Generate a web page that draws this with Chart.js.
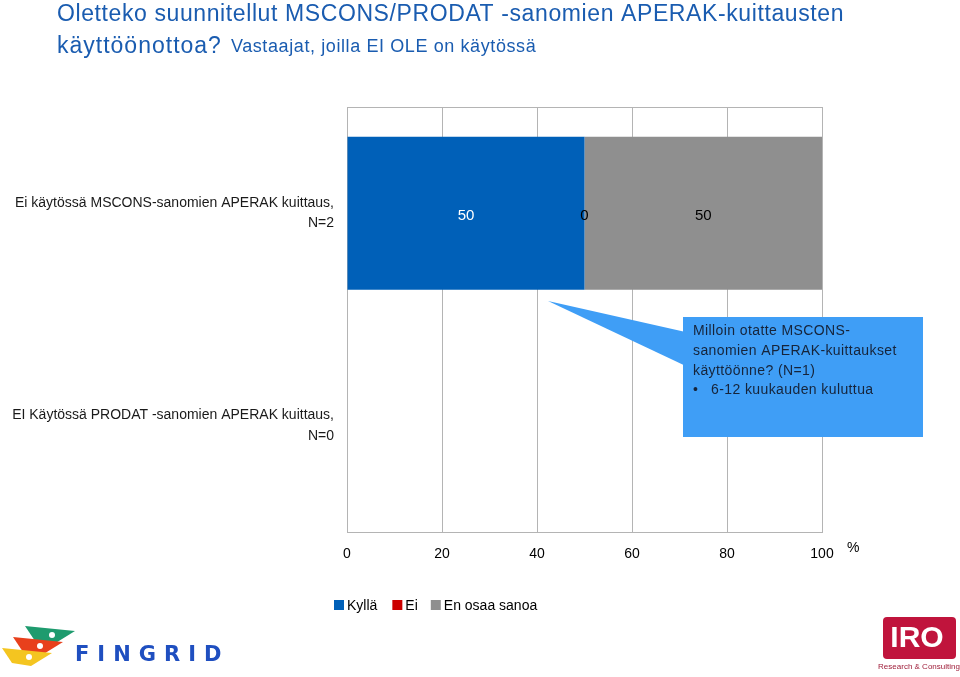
<!DOCTYPE html>
<html>
<head>
<meta charset="utf-8">
<script src="https://cdn.jsdelivr.net/npm/chart.js@4.4.1/dist/chart.umd.min.js"></script>
<style>
  html, body { margin: 0; padding: 0; background: #fff; }
  #wrap { width: 960px; height: 677px; position: relative; }
</style>
</head>
<body>
<div id="wrap"><canvas id="surveyChart"></canvas></div>
<script>
// Data
const categories = [
    ['Ei käytössä MSCONS-sanomien APERAK kuittaus,', 'N=2'],
    ['EI Käytössä PRODAT -sanomien APERAK kuittaus,', 'N=0'],
];
const kylla = [50, null];
const ei = [0, null];
const enOsaa = [50, null];
const xTicks = [0, 20, 40, 60, 80, 100];

const seriesNames = ['Kyllä', 'Ei', 'En osaa sanoa'];
const seriesColors = ['#0060b8', '#cc0000', '#8f8f8f'];
const labelColors = ['#ffffff', '#000000', '#000000'];

const FONT = '"Liberation Sans", Arial, sans-serif';

// Draws the value labels inside the bars
const barLabels = {
    id: 'barLabels',
    afterDatasetsDraw(chart) {
        const ctx = chart.ctx;
        ctx.save();
        ctx.font = '15px ' + FONT;
        ctx.textAlign = 'center';
        ctx.textBaseline = 'middle';
        chart.data.datasets.forEach((ds, i) => {
            chart.getDatasetMeta(i).data.forEach((bar, j) => {
                const v = ds.data[j];
                if (v === null || v === undefined) return;
                const { x, base, y } = bar.getProps(['x', 'base', 'y'], true);
                ctx.fillStyle = labelColors[i];
                ctx.fillText(String(v), (x + base) / 2, y + 3);
            });
        });
        ctx.restore();
    },
};

// Title, unit, callout, legend and logos
const decorations = {
    id: 'decorations',
    afterDraw(chart) {
        const ctx = chart.ctx;
        const area = chart.chartArea;
        ctx.save();

        // top edge of the plot box
        ctx.strokeStyle = '#b4b4b4';
        ctx.lineWidth = 1;
        ctx.beginPath();
        ctx.moveTo(area.left, area.top + 0.5);
        ctx.lineTo(area.right, area.top + 0.5);
        ctx.stroke();

        // title
        ctx.fillStyle = '#1a5cb0';
        ctx.textBaseline = 'alphabetic';
        ctx.textAlign = 'left';
        ctx.letterSpacing = '0.6px';
        ctx.font = '23px ' + FONT;
        ctx.fillText('Oletteko suunnitellut MSCONS/PRODAT -sanomien APERAK-kuittausten', 57, 21);
        ctx.letterSpacing = '1px';
        ctx.fillText('käyttöönottoa?', 57, 53);
        const w = ctx.measureText('käyttöönottoa?').width;
        ctx.letterSpacing = '0.6px';
        ctx.font = '18px ' + FONT;
        ctx.fillText('Vastaajat, joilla EI OLE on käytössä', 57 + w + 9, 52);
        ctx.letterSpacing = '0px';

        // unit
        ctx.fillStyle = '#000';
        ctx.font = '14px ' + FONT;
        ctx.fillText('%', 847, 552);

        // callout
        ctx.fillStyle = '#3f9ef6';
        ctx.beginPath();
        ctx.moveTo(548, 301);
        ctx.lineTo(690, 333);
        ctx.lineTo(690, 368);
        ctx.closePath();
        ctx.fill();
        ctx.fillRect(683, 317, 240, 120);
        ctx.fillStyle = '#16243a';
        ctx.font = '14px ' + FONT;
        ctx.letterSpacing = '0.4px';
        ctx.textBaseline = 'middle';
        ctx.fillText('Milloin otatte MSCONS-', 693, 331);
        ctx.fillText('sanomien APERAK-kuittaukset', 693, 351);
        ctx.fillText('käyttöönne? (N=1)', 693, 371);
        ctx.fillText('•', 693, 390);
        ctx.fillText('6-12 kuukauden kuluttua', 711, 390);
        ctx.letterSpacing = '0px';

        // legend
        let lx = 334;
        ctx.font = '14px ' + FONT;
        chart.data.datasets.forEach((ds, i) => {
            ctx.fillStyle = ds.backgroundColor;
            ctx.fillRect(lx, 600, 10, 10);
            ctx.fillStyle = '#000';
            ctx.fillText(ds.label, lx + 13, 606);
            lx += 13 + ctx.measureText(ds.label).width + (i === 0 ? 15 : 13);
        });

        // Fingrid logo (approximation)
        const kite = (cx, cy, col) => {
            ctx.fillStyle = col;
            ctx.beginPath();
            ctx.moveTo(cx - 25, cy - 9);
            ctx.lineTo(cx + 25, cy - 4);
            ctx.lineTo(cx + 4, cy + 9);
            ctx.lineTo(cx - 15, cy + 6);
            ctx.closePath();
            ctx.fill();
            ctx.fillStyle = '#fff';
            ctx.beginPath();
            ctx.arc(cx + 2, cy, 3, 0, Math.PI * 2);
            ctx.fill();
        };
        kite(50, 635, '#1e9b6e');
        kite(38, 646, '#e8401c');
        kite(27, 657, '#f4c520');
        ctx.fillStyle = '#1f4fc0';
        ctx.font = 'bold 21px "DejaVu Sans", sans-serif';
        ctx.letterSpacing = '8px';
        ctx.textBaseline = 'middle';
        ctx.fillText('FINGRID', 75, 656);
        ctx.letterSpacing = '0px';

        // IRO logo (approximation)
        ctx.fillStyle = '#c0143c';
        ctx.beginPath();
        ctx.roundRect(883, 617, 73, 42, 4);
        ctx.fill();
        ctx.fillStyle = '#fff';
        ctx.font = 'bold 30px ' + FONT;
        ctx.textAlign = 'center';
        ctx.fillText('IRO', 917, 639);
        ctx.fillStyle = '#a0203c';
        ctx.font = '8px ' + FONT;
        ctx.fillText('Research & Consulting', 919, 667);

        ctx.restore();
    },
};

const ctx = document.getElementById('surveyChart').getContext('2d');
new Chart(ctx, {
    type: 'bar',
    data: {
        labels: categories,
        datasets: [
            { label: seriesNames[0], data: kylla, backgroundColor: seriesColors[0] },
            { label: seriesNames[1], data: ei, backgroundColor: seriesColors[1] },
            { label: seriesNames[2], data: enOsaa, backgroundColor: seriesColors[2] },
        ],
    },
    options: {
        indexAxis: 'y',
        responsive: true,
        maintainAspectRatio: false,
        animation: false,
        layout: { padding: { top: 107, right: 138, left: 0, bottom: 0 } },
        datasets: { bar: { barPercentage: 0.72, categoryPercentage: 1.0, borderWidth: 0 } },
        scales: {
            x: {
                stacked: true,
                min: 0,
                max: 100,
                afterBuildTicks: (axis) => { axis.ticks = xTicks.map(v => ({ value: v })); },
                afterFit: (axis) => { axis.height = 145; },
                grid: { color: '#b4b4b4', drawTicks: false },
                border: { color: '#b4b4b4' },
                ticks: { padding: 14, color: '#000', font: { family: FONT, size: 14 } },
            },
            y: {
                stacked: true,
                afterFit: (axis) => { axis.width = 347; },
                grid: { display: false },
                border: { color: '#b4b4b4' },
                ticks: { padding: 5, color: '#1a1a1a', font: { family: FONT, size: 14, lineHeight: 1.45 } },
            },
        },
        plugins: {
            legend: { display: false },
            tooltip: { enabled: false },
        },
    },
    plugins: [barLabels, decorations],
});
</script>
</body>
</html>
